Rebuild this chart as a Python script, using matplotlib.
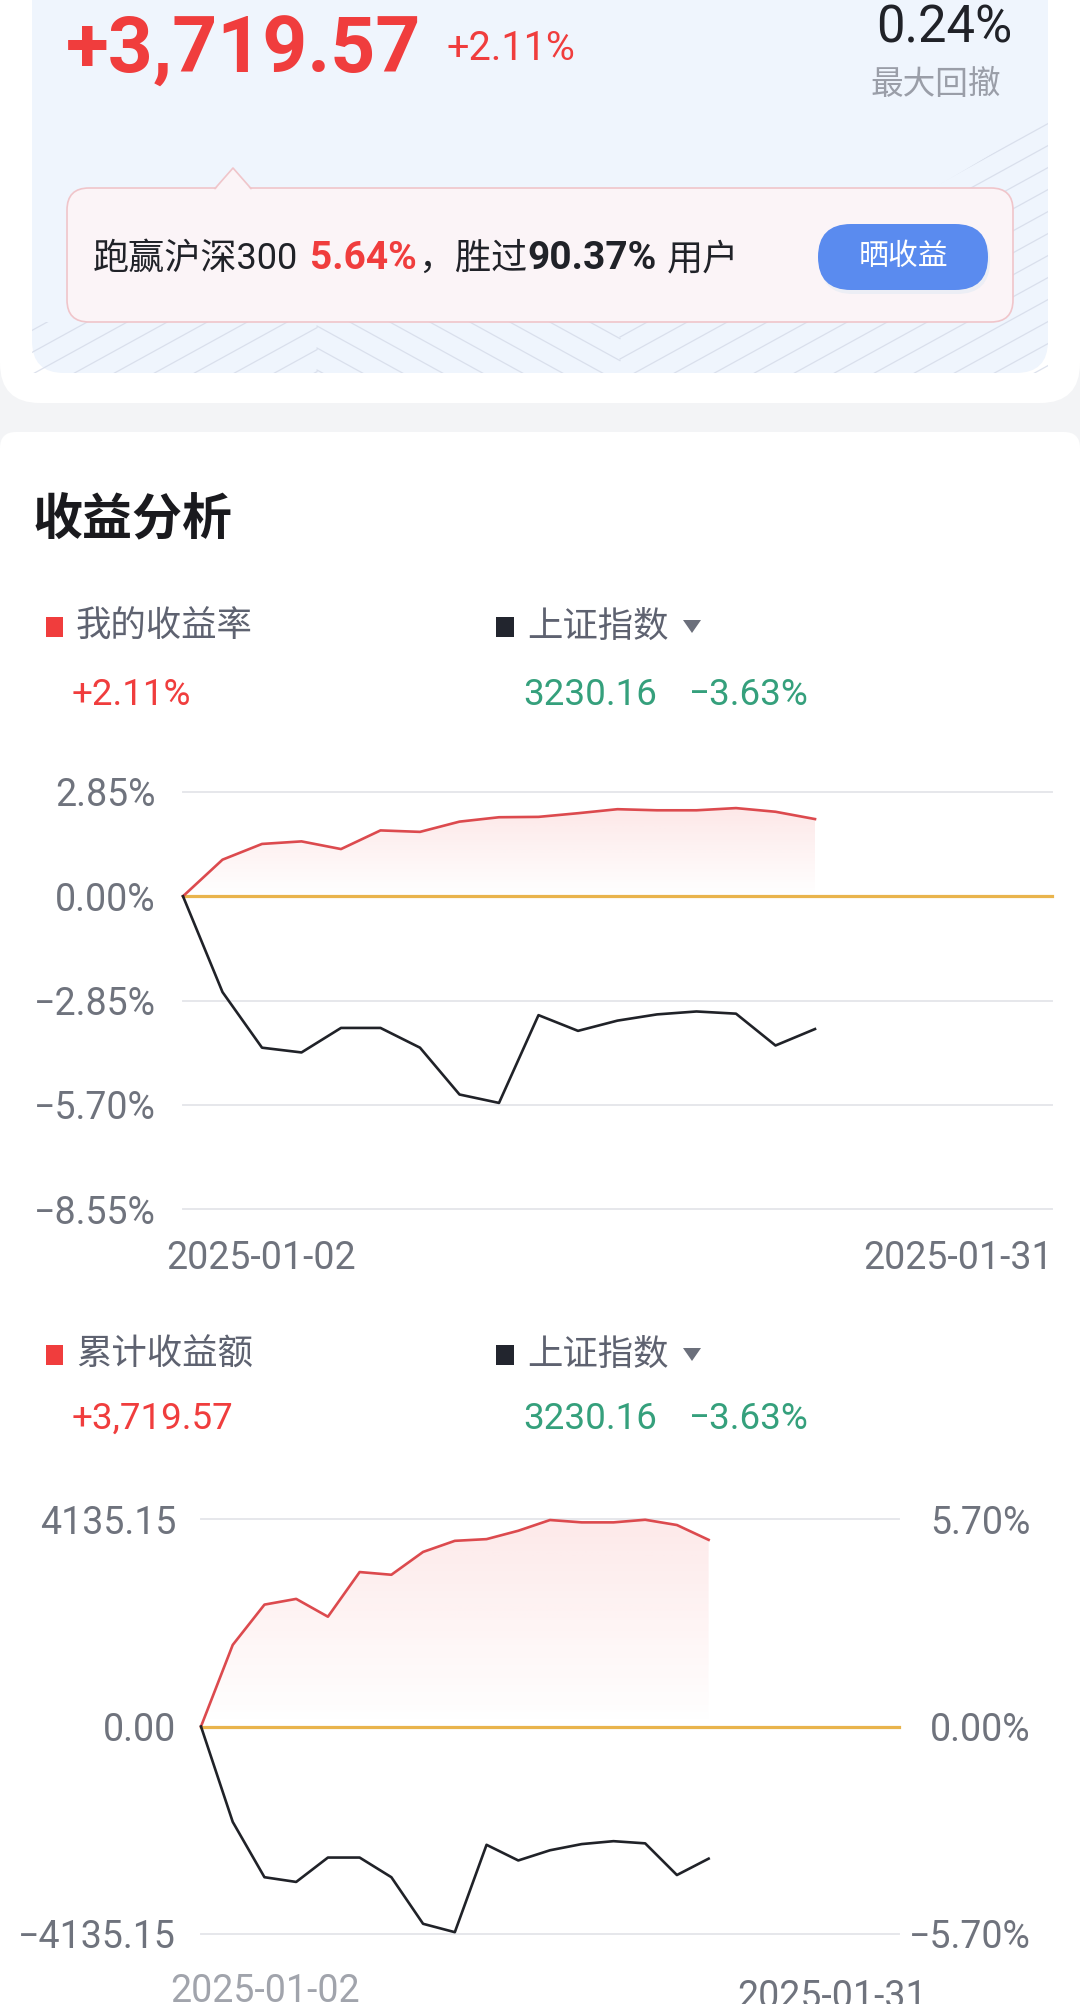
import numpy as np
import matplotlib.pyplot as plt
from matplotlib.patches import FancyBboxPatch, Polygon, Rectangle
from matplotlib.colors import to_rgb

plt.rcParams['font.family'] = ['Roboto', 'Noto Sans CJK SC', 'DejaVu Sans']

# ---- data ----
day_idx = list(range(17))          # trading days shown so far
n_slots = 22                       # x axis runs 2025-01-02 .. 2025-01-31
my_rate = [0, 1.00, 1.43, 1.50, 1.29, 1.80, 1.76, 2.04, 2.16, 2.17, 2.27,
           2.38, 2.35, 2.35, 2.41, 2.31, 2.11]
idx_rate = [0, -2.62, -4.14, -4.27, -3.60, -3.60, -4.14, -5.42, -5.65, -3.25,
            -3.68, -3.40, -3.23, -3.15, -3.21, -4.08, -3.63]
my_amount = [0, 1626, 2429, 2543, 2188, 3078, 3024, 3479, 3700, 3734, 3901,
             4115, 4068, 4068, 4120, 4015, 3719.57]

rate_ticks = [2.85, 0.00, -2.85, -5.70, -8.55]
rate_labels = ['2.85%', '0.00%', '−2.85%', '−5.70%', '−8.55%']
amount_ticks = [4135.15, 0.0, -4135.15]
amount_labels = ['4135.15', '0.00', '−4135.15']
pct_ticks = [5.70, 0.0, -5.70]
pct_labels = ['5.70%', '0.00%', '−5.70%']
date_labels = ['2025-01-02', '2025-01-31']

RED = '#f03d3d'
LINE_RED = '#dc4a4e'
GREEN = '#35a07c'
GRAY = '#6f737d'
DARK = '#202228'
GOLD = '#e9b44c'
GRID = '#e6e7eb'

W, H = 1080, 2004
fig = plt.figure(figsize=(W / 100, H / 100), dpi=100)
bg = fig.add_axes([0, 0, 1, 1])
bg.set_xlim(0, W)
bg.set_ylim(H, 0)
bg.axis('off')


def box(x0, y0, x1, y1, r, fc, ec='none', lw=0, z=1):
    p = FancyBboxPatch((x0, y0), x1 - x0, y1 - y0,
                       boxstyle='round,pad=0,rounding_size=%g' % r,
                       fc=fc, ec=ec, lw=lw, zorder=z)
    bg.add_patch(p)
    return p


def px_axes(x0, y0, x1, y1):
    ax = fig.add_axes([x0 / W, 1 - y1 / H, (x1 - x0) / W, (y1 - y0) / H])
    ax.patch.set_visible(False)
    for s in ax.spines.values():
        s.set_visible(False)
    ax.set_xticks([])
    return ax


def grad_fill(ax, x, y, color, a_top):
    x = np.asarray(x, float)
    y = np.asarray(y, float)
    poly = ax.fill_between(x, y, 0, facecolor='none', edgecolor='none')
    rgba = np.zeros((120, 1, 4))
    rgba[..., :3] = to_rgb(color)
    rgba[:, 0, 3] = np.linspace(0, a_top, 120)
    im = ax.imshow(rgba, extent=[x.min(), x.max(), 0, y.max()],
                   origin='lower', aspect='auto', zorder=1)
    im.set_clip_path(poly.get_paths()[0], transform=ax.transData)


# ---- page background and top card ----
bg.add_patch(Rectangle((0, 0), W, H, fc='#f3f4f6', zorder=0))
box(0, -100, 1080, 403, 40, 'white')
box(0, 432, 1080, 2150, 16, 'white')
box(32, -100, 1048, 373, 32, '#eff5fd', z=2)

# faint diagonal stripes in the card
clip = Polygon([(32, 322), (711, 322), (1048, 120), (1048, 373), (32, 373)],
               closed=True, fc='none', ec='none', transform=bg.transData)
bg.add_patch(clip)
for c in np.arange(-400, 1400, 22):
    for xa, xb, sgn in [(32, 317, -1), (317, 620, 1), (620, 1048, -1)]:
        xs = np.array([xa, xb])
        ys = c + sgn * 0.55 * (xs - 317) if sgn > 0 else c - 0.55 * xs
        ln, = bg.plot(xs, ys, color='#d4dae8', lw=0.9, alpha=0.8, zorder=3)
        ln.set_clip_path(clip)

# callout box with pointer
box(67, 188, 1013, 322, 22, '#fbf4f7', ec='#f0c5ca', lw=1.2, z=4)
bg.add_patch(Polygon([(215, 190), (233, 168), (251, 190)], closed=True,
                     fc='#fbf4f7', ec='none', zorder=5))
bg.plot([215, 233, 251], [188.5, 168, 188.5], color='#f0c5ca', lw=1.2, zorder=5)

# share button
box(820, 228, 990, 294, 33, '#eceef5', z=4)
box(818, 224, 988, 290, 33, '#5a8bef', z=5)
bg.text(903, 257, '晒收益', color='white', fontsize=21.5, ha='center', va='center', zorder=6)

# headline numbers
bg.text(66, 73, '+3,719.57', color=RED, fontsize=56.5, fontweight='bold', va='baseline', zorder=6)
bg.text(447, 60, '+2.11%', color=RED, fontsize=28.5, va='baseline', zorder=6)
bg.text(1012, 42, '0.24%', color=DARK, fontsize=36.5, ha='right', va='baseline', zorder=6)
bg.text(870, 85, '最大回撤', color='#9a9ea8', fontsize=23.5, va='center', zorder=6)

# callout sentence, pieces placed left to right
parts = [(93, '跑赢沪深300', DARK, 'normal', 26),
         (310, '5.64%', RED, 'bold', 28),
         (418, '，', DARK, 'normal', 26),
         (455, '胜过', DARK, 'normal', 26),
         (527, '90.37%', DARK, 'bold', 28),
         (667, '用户', DARK, 'normal', 26)]
for x, s, col, wt, fs in parts:
    bg.text(x, 269, s, color=col, fontsize=fs, fontweight=wt, va='baseline', zorder=6)

# section title
bg.text(33, 521, '收益分析', color='#1a1a1e', fontsize=36, fontweight='bold', va='center')


def legend_row(yc, base, name, value):
    bg.add_patch(Rectangle((46, yc - 10), 17, 20, fc=RED, zorder=3))
    bg.text(76, yc, name, color='#5e6270', fontsize=25.5, va='center')
    bg.add_patch(Rectangle((496, yc - 10), 18, 20, fc='#22252e', zorder=3))
    bg.text(527, yc, '上证指数', color='#5e6270', fontsize=25.5, va='center')
    bg.add_patch(Polygon([(683, yc - 7), (701, yc - 7), (692, yc + 6)],
                         closed=True, fc='#6b6f7b', zorder=3))
    bg.text(72, base, value, color=RED, fontsize=26.5, va='baseline')
    bg.text(523, base, '3230.16', color=GREEN, fontsize=26.5, va='baseline')
    bg.text(689, base, '−3.63%', color=GREEN, fontsize=26.5, va='baseline')


legend_row(627, 705, '我的收益率', '+2.11%')
legend_row(1355, 1429, '累计收益额', '+3,719.57')

# ---- chart 1: rate of return vs index ----
ax1 = px_axes(183, 792, 1052, 1209)
grad_fill(ax1, day_idx, my_rate, '#f04848', 0.13)
for t in rate_ticks:
    if t != 0:
        ax1.axhline(t, color=GRID, lw=1.4, zorder=0, clip_on=False)
ax1.axhline(0, color=GOLD, lw=2.3, zorder=2, clip_on=False)
ax1.plot(day_idx, my_rate, color=LINE_RED, lw=1.9, zorder=3, clip_on=False)
ax1.plot(day_idx, idx_rate, color=DARK, lw=1.9, zorder=3, clip_on=False)
ax1.set_xlim(0, n_slots)
ax1.set_ylim(-8.55, 2.85)
ax1.set_yticks(rate_ticks, rate_labels)
ax1.tick_params(axis='y', length=0, pad=19.5, labelsize=27, labelcolor=GRAY)

bg.text(166, 1269, date_labels[0], color=GRAY, fontsize=27, va='baseline')
bg.text(1053, 1269, date_labels[1], color=GRAY, fontsize=27, ha='right', va='baseline')

# ---- chart 2: cumulative amount (left) vs index % (right) ----
ax2 = px_axes(201, 1519, 899, 1934)
grad_fill(ax2, day_idx, my_amount, '#f04848', 0.12)
for t in amount_ticks:
    if t != 0:
        ax2.axhline(t, color=GRID, lw=1.4, zorder=0, clip_on=False)
ax2.axhline(0, color=GOLD, lw=2.3, zorder=2, clip_on=False)
ax2.plot(day_idx, my_amount, color=LINE_RED, lw=1.9, zorder=3, clip_on=False)
ax2.set_xlim(0, n_slots)
ax2.set_ylim(-4135.15, 4135.15)
ax2.set_yticks(amount_ticks, amount_labels)
ax2.tick_params(axis='y', length=0, pad=18, labelsize=27, labelcolor=GRAY)

ax2r = ax2.twinx()
ax2r.patch.set_visible(False)
for s in ax2r.spines.values():
    s.set_visible(False)
ax2r.plot(day_idx, idx_rate, color=DARK, lw=1.9, zorder=3, clip_on=False)
ax2r.set_xlim(0, n_slots)
ax2r.set_ylim(-5.70, 5.70)
ax2r.set_yticks(pct_ticks, pct_labels)
ax2r.tick_params(axis='y', length=0, pad=95, labelsize=27, labelcolor=GRAY)
for lbl in ax2r.get_yticklabels():
    lbl.set_horizontalalignment('right')

# these two sit on the bottom edge of the screenshot, as in the original
bg.text(170, 1973, date_labels[0], color='#8a8e98', fontsize=27, va='top', alpha=0.8)
bg.text(737, 1979, date_labels[1], color=GRAY, fontsize=27, va='top')

fig.savefig('out.png', dpi=100)
